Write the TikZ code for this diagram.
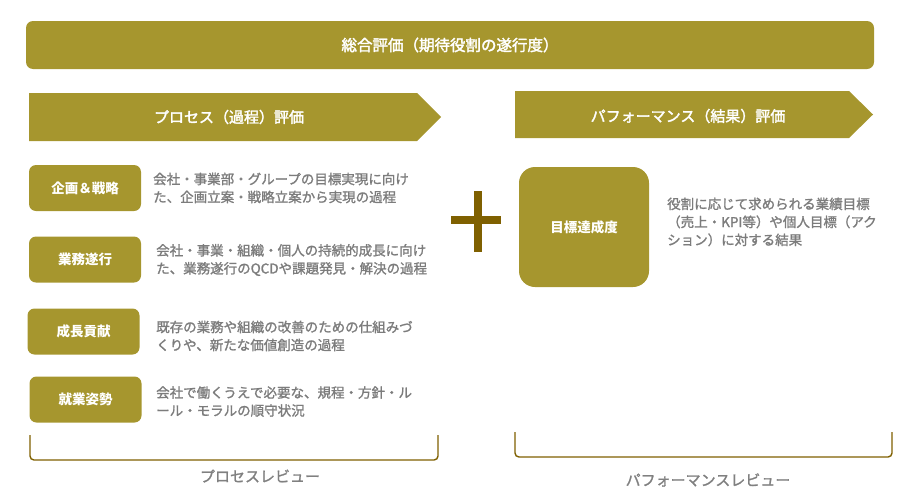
\documentclass[tikz,border=0pt]{standalone}
\usepackage{fontspec}
\setmainfont{Noto Sans CJK JP}
\newfontfamily\jpdesc{Noto Sans CJK JP}[FakeBold=1.5]
\newfontfamily\jphead{Noto Sans CJK JP}[FakeBold=2.2]
\definecolor{goldfill}{RGB}{166,150,46}
\definecolor{brownline}{RGB}{127,96,0}
\definecolor{descgray}{RGB}{124,124,124}
\definecolor{capgray}{RGB}{128,128,128}
\tikzset{
  goldbox/.style={fill=goldfill, draw=none, text=white, font=\fontsize{13.5}{16}\selectfont\bfseries, inner sep=0pt},
  itembox/.style={goldbox, rounded corners=7pt, minimum width=112pt, minimum height=46pt},
  desc/.style={text=descgray, font=\jpdesc\fontsize{13.5}{18}\selectfont, align=left, anchor=west, inner sep=0pt},
  headtext/.style={text=white, font=\jphead\fontsize{15}{18}\selectfont, inner sep=0pt},
  chevron/.style={fill=goldfill, draw=none},
  bracketline/.style={draw=brownline, line width=1.4pt},
  caption/.style={text=capgray, font=\jpdesc\fontsize{15}{18}\selectfont, inner sep=0pt},
  plusbar/.style={fill=brownline, draw=none}
}
\begin{document}
\begin{tikzpicture}[x=1pt,y=-1pt]
\useasboundingbox (0,0) rectangle (904,490);
% top banner
\node[goldbox, rounded corners=7pt, minimum width=848pt, minimum height=48pt, font=\jphead\fontsize{15.5}{18}\selectfont] (total) at (450,45) {総合評価（期待役割の遂行度）};
% chevrons
\path[chevron] (29,93) -- (417,93) -- (441,117) -- (417,141) -- (29,141) -- cycle;
\node[headtext] (proc) at (229,117) {プロセス（過程）評価};
\path[chevron] (515,91) -- (849,91) -- (873,114.5) -- (849,138) -- (515,138) -- cycle;
\node[headtext] (perf) at (688,116) {パフォーマンス（結果）評価};
% left items
\node[itembox] (b1) at (85,188) {企画＆戦略};
\node[desc] (d1) at (153,188) {会社・事業部・グループの目標実現に向け\\た、企画立案・戦略立案から実現の過程};
\node[itembox] (b2) at (85,259.5) {業務遂行};
\node[desc] (d2) at (156,260) {会社・事業・組織・個人の持続的成長に向け\\た、業務遂行のQCDや課題発見・解決の過程};
\node[itembox] (b3) at (83.5,331.5) {成長貢献};
\node[desc] (d3) at (156,336) {既存の業務や組織の改善のための仕組みづ\\くりや、新たな価値創造の過程};
\node[itembox] (b4) at (85.5,399.5) {就業姿勢};
\node[desc] (d4) at (156,401.5) {会社で働くうえで必要な、規程・方針・ル\\ール・モラルの順守状況};
% plus
\path[plusbar] (451,216) rectangle (501,223.5);
\path[plusbar] (474,191) rectangle (481.5,252);
% right item
\node[goldbox, rounded corners=16pt, minimum width=130pt, minimum height=120pt] (b5) at (584,227) {目標達成度};
\node[desc] (d5) at (667,222) {役割に応じて求められる業績目標\\（売上・KPI等）や個人目標（アク\\ション）に対する結果};
% brackets
\draw[bracketline] (30,435) -- (30,456) to[out=-90,in=180] (34,460) -- (434,460) to[out=0,in=-90] (438,456) -- (438,435);
\draw[bracketline] (515,432) -- (515,453) to[out=-90,in=180] (519,457) -- (888,457) to[out=0,in=-90] (892,453) -- (892,432);
\node[caption] (c1) at (260,476) {プロセスレビュー};
\node[caption] (c2) at (708,480) {パフォーマンスレビュー};
\end{tikzpicture}
\end{document}
